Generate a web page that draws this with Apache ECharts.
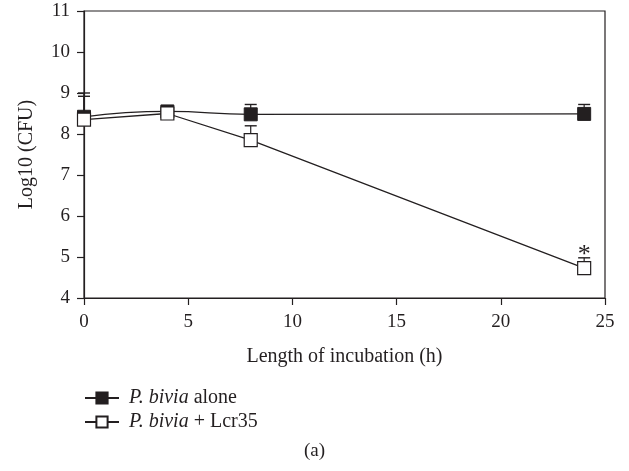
<!DOCTYPE html>
<html>
<head>
<meta charset="utf-8">
<script src="https://cdn.jsdelivr.net/npm/echarts@6/dist/echarts.min.js"></script>
<style>html,body{margin:0;padding:0;background:#fff}#c{width:629px;height:471px}</style>
</head>
<body>
<div id="c"></div>
<script>
const hours = [0, 4, 8, 24];
const aloneVals = [8.42, 8.55, 8.48, 8.49];
const lcrVals = [8.35, 8.5, 7.85, 4.73];
const aloneErrHigh = [9.0, 8.58, 8.72, 8.72];
const lcrErrHigh = [8.92, 8.55, 8.2, 4.98];
const xTicks = [0, 5, 10, 15, 20, 25];
const yTicks = [4, 5, 6, 7, 8, 9, 10, 11];
const sigPoint = [24, 4.98];

const FONT = 'Liberation Serif';
const DARK = '#231f20';

function errSeries(vals, high, z) {
  return {
    type: 'custom',
    z: z,
    silent: true,
    data: hours.map((h, i) => [h, vals[i], high[i]]),
    renderItem: function (params, api) {
      const p0 = api.coord([api.value(0), api.value(1)]);
      const p1 = api.coord([api.value(0), api.value(2)]);
      const w = 6;
      return {
        type: 'group',
        children: [
          { type: 'line', shape: { x1: p0[0], y1: p0[1], x2: p1[0], y2: p1[1] }, style: { stroke: DARK, lineWidth: 1.2 } },
          { type: 'line', shape: { x1: p1[0] - w, y1: p1[1], x2: p1[0] + w, y2: p1[1] }, style: { stroke: DARK, lineWidth: 1.4 } }
        ]
      };
    }
  };
}

const chart = echarts.init(document.getElementById('c'));
chart.setOption({
  animation: false,
  backgroundColor: '#fff',
  grid: { left: 84, right: 24, top: 11, bottom: 173, containLabel: false,
          show: true, borderColor: DARK, borderWidth: 1.2 },
  xAxis: {
    type: 'value', min: 0, max: 25, interval: 5,
    name: 'Length of incubation (h)', nameLocation: 'middle', nameGap: 49,
    nameTextStyle: { fontFamily: FONT, fontSize: 20, color: DARK },
    axisLine: { show: true, lineStyle: { color: DARK, width: 1.2 } },
    axisTick: { show: true, inside: false, length: 7, lineStyle: { color: DARK, width: 1.2 } },
    axisLabel: { fontFamily: FONT, fontSize: 19, color: DARK, margin: 15,
      formatter: v => xTicks.includes(v) ? String(v) : '' },
    splitLine: { show: false }
  },
  yAxis: {
    type: 'value', min: 4, max: 11, interval: 1,
    name: 'Log10 (CFU)', nameLocation: 'middle', nameGap: 47, nameRotate: 90,
    nameTextStyle: { fontFamily: FONT, fontSize: 20, color: DARK },
    axisLine: { show: true, lineStyle: { color: DARK, width: 1.2 } },
    axisTick: { show: true, inside: false, length: 7, lineStyle: { color: DARK, width: 1.2 } },
    axisLabel: { fontFamily: FONT, fontSize: 19, color: DARK, margin: 14,
      formatter: v => yTicks.includes(v) ? String(v) : '' },
    splitLine: { show: false }
  },
  legend: {
    orient: 'vertical', left: 84, top: 388, padding: 0, itemWidth: 34, itemHeight: 14, itemGap: 4,
    textStyle: { fontFamily: FONT, fontSize: 20, color: DARK,
      rich: { i: { fontFamily: FONT, fontSize: 20, fontStyle: 'italic', color: DARK },
              n: { fontFamily: FONT, fontSize: 20, color: DARK } } },
    formatter: function (name) {
      return name === 'alone' ? ' {i|P. bivia} {n|alone}' : ' {i|P. bivia} {n|+ Lcr35}';
    },
    data: ['alone', 'lcr']
  },
  graphic: [
    { type: 'text', left: 'center', top: 442, style: { text: '(a)', font: '19px "Liberation Serif"', fill: DARK } }
  ],
  series: [
    errSeries(aloneVals, aloneErrHigh, 1),
    errSeries(lcrVals, lcrErrHigh, 1),
    {
      name: 'alone', type: 'line', z: 3,
      data: hours.map((h, i) => [h, aloneVals[i]]),
      smooth: 0.5,
      symbol: 'rect', symbolSize: 13,
      lineStyle: { color: DARK, width: 1.3 },
      itemStyle: { color: DARK, borderColor: DARK, borderWidth: 1 }
    },
    {
      name: 'lcr', type: 'line', z: 4,
      data: hours.map((h, i) => [h, lcrVals[i]]),
      smooth: false,
      symbol: 'rect', symbolSize: 13,
      lineStyle: { color: DARK, width: 1.3 },
      itemStyle: { color: '#fff', borderColor: DARK, borderWidth: 1.2 }
    },
    {
      type: 'custom', z: 5, silent: true,
      data: [sigPoint],
      renderItem: function (params, api) {
        const p = api.coord([api.value(0), api.value(1)]);
        return { type: 'text', x: p[0], y: p[1] - 3,
          style: { text: '*', font: '26px "Liberation Serif"', fill: DARK, align: 'center', verticalAlign: 'middle' } };
      }
    }
  ]
});
</script>
</body>
</html>
